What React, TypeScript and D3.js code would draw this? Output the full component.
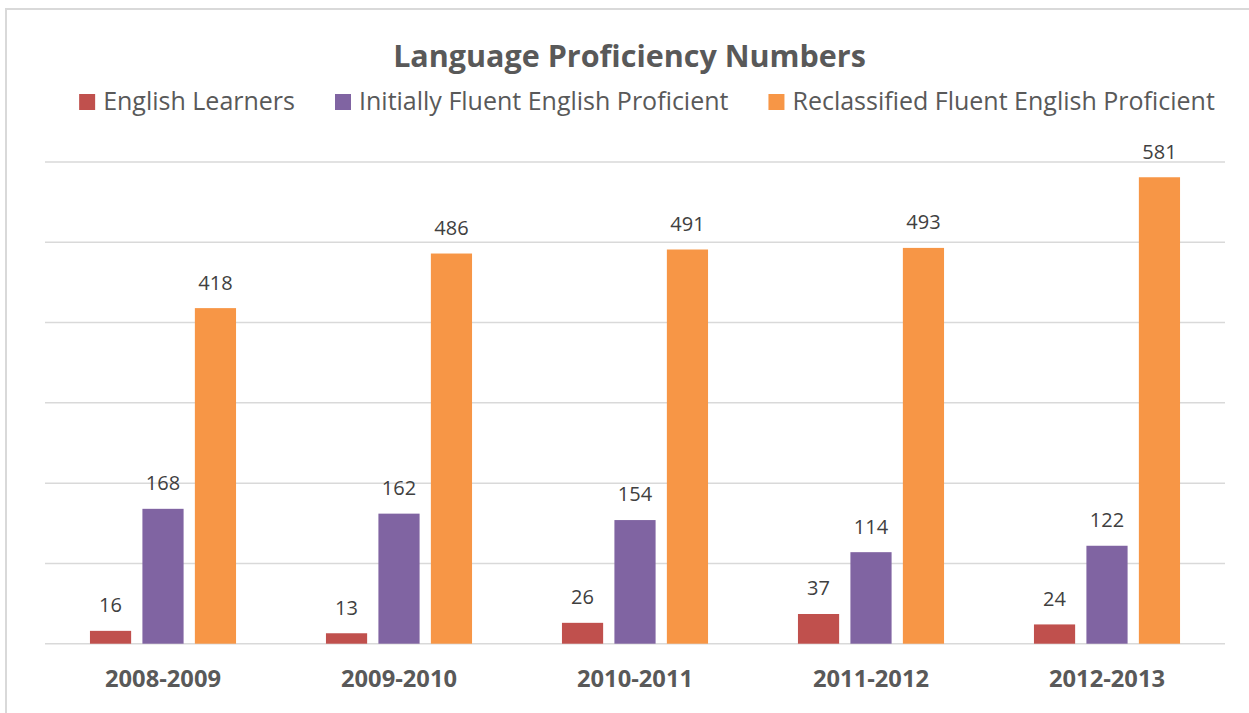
import React, { useEffect, useRef } from "react";
import * as d3 from "d3";

const categories = ["2008-2009", "2009-2010", "2010-2011", "2011-2012", "2012-2013"];
const seriesNames = [
  "English Learners",
  "Initially Fluent English Proficient",
  "Reclassified Fluent English Proficient",
];
const englishLearners = [16, 13, 26, 37, 24];
const initiallyFluent = [168, 162, 154, 114, 122];
const reclassifiedFluent = [418, 486, 491, 493, 581];
const seriesColors = ["#C0504D", "#8064A2", "#F79646"];
const yTicks = [0, 100, 200, 300, 400, 500, 600];
const title = "Language Proficiency Numbers";

const W = 1249;
const H = 713;
const FONT = "'Open Sans', sans-serif";

export default function App() {
  const ref = useRef<SVGSVGElement | null>(null);

  useEffect(() => {
    const svg = d3.select(ref.current);
    svg.selectAll("*").remove();

    const values = [englishLearners, initiallyFluent, reclassifiedFluent];

    // chart frame
    svg
      .append("rect")
      .attr("x", 6)
      .attr("y", 9)
      .attr("width", W + 20)
      .attr("height", H + 20)
      .attr("fill", "#fff")
      .attr("stroke", "#d9d9d9")
      .attr("stroke-width", 2);

    const left = 45;
    const right = 1225;
    const top = 162;
    const bottom = 643.7;

    const x = d3.scaleBand<string>().domain(categories).range([left, right]).padding(0);
    const y = d3.scaleLinear().domain([0, 600]).range([bottom, top]);
    const groupW = x.bandwidth() * 0.619;
    const xs = d3
      .scaleBand<string>()
      .domain(seriesNames)
      .range([-groupW / 2, groupW / 2])
      .paddingInner(0.215)
      .paddingOuter(0);

    // gridlines
    svg
      .append("g")
      .selectAll("line")
      .data(yTicks)
      .join("line")
      .attr("x1", left)
      .attr("x2", right)
      .attr("y1", (d) => y(d))
      .attr("y2", (d) => y(d))
      .attr("stroke", "#d9d9d9")
      .attr("stroke-width", 1.5);

    // bars + labels
    seriesNames.forEach((s, si) => {
      const g = svg.append("g");
      g.selectAll("rect")
        .data(values[si])
        .join("rect")
        .attr("x", (_d, i) => (x(categories[i]) as number) + x.bandwidth() / 2 + (xs(s) as number))
        .attr("width", xs.bandwidth())
        .attr("y", (d) => y(d))
        .attr("height", (d) => bottom - y(d))
        .attr("fill", seriesColors[si]);
      g.selectAll("text")
        .data(values[si])
        .join("text")
        .attr("x", (_d, i) => (x(categories[i]) as number) + x.bandwidth() / 2 + (xs(s) as number) + xs.bandwidth() / 2)
        .attr("y", (d) => y(d) - 18.6)
        .attr("text-anchor", "middle")
        .attr("font-family", FONT)
        .attr("font-size", 20)
        .attr("fill", "#404040")
        .text((d) => String(d));
    });

    // category labels
    svg
      .append("g")
      .selectAll("text")
      .data(categories)
      .join("text")
      .attr("x", (d) => (x(d) as number) + x.bandwidth() / 2)
      .attr("y", 686.5)
      .attr("text-anchor", "middle")
      .attr("font-family", FONT)
      .attr("font-weight", "bold")
      .attr("font-size", 23.7)
      .attr("fill", "#595959")
      .text((d) => d);

    // title
    svg
      .append("text")
      .attr("x", 629.5)
      .attr("y", 67)
      .attr("text-anchor", "middle")
      .attr("font-family", FONT)
      .attr("font-weight", "bold")
      .attr("font-size", 30.5)
      .attr("fill", "#595959")
      .text(title);

    // legend
    const lg = svg.append("g");
    const sq = 16;
    const gapSqText = 8;
    const gapItems = 40;
    const items = seriesNames.map((name, i) => {
      const t = lg
        .append("text")
        .attr("y", 110)
        .attr("font-family", FONT)
        .attr("font-size", 25)
        .attr("fill", "#595959")
        .text(name);
      const w = (t.node() as SVGTextElement).getComputedTextLength();
      const r = lg
        .append("rect")
        .attr("width", sq)
        .attr("height", sq)
        .attr("y", 94)
        .attr("fill", seriesColors[i]);
      return { t, r, w };
    });
    const total =
      items.reduce((a, it) => a + sq + gapSqText + it.w, 0) + gapItems * (items.length - 1);
    let cx = 647 - total / 2;
    items.forEach((it) => {
      it.r.attr("x", cx);
      it.t.attr("x", cx + sq + gapSqText);
      cx += sq + gapSqText + it.w + gapItems;
    });
  }, []);

  return (
    <svg
      ref={ref}
      width={W}
      height={H}
      style={{ position: "absolute", left: 0, top: 0, background: "#fff" }}
    />
  );
}
